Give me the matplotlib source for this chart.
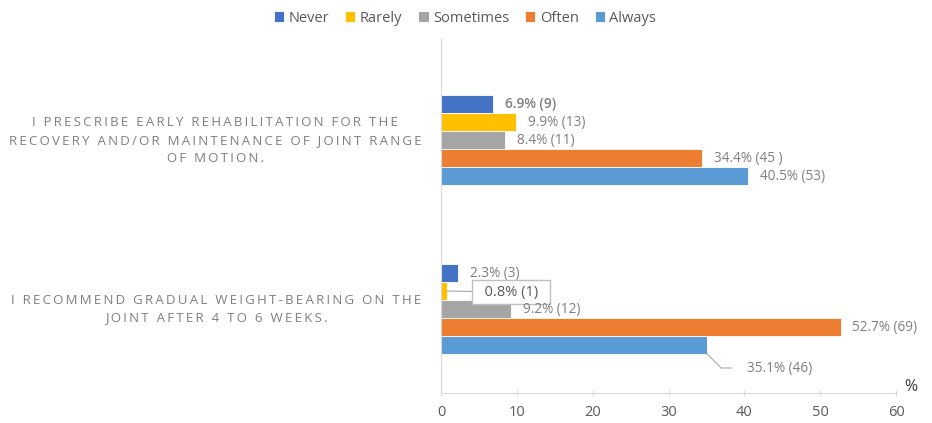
import numpy as np
import matplotlib.pyplot as plt

plt.rcParams['font.family'] = ['Open Sans', 'DejaVu Sans']

# survey statements (top to bottom)
statements = [
    "I PRESCRIBE EARLY REHABILITATION FOR THE\nRECOVERY AND/OR MAINTENANCE OF JOINT RANGE\nOF MOTION.",
    "I RECOMMEND GRADUAL WEIGHT-BEARING ON THE\nJOINT AFTER 4 TO 6 WEEKS.",
]
answers = ["Never", "Rarely", "Sometimes", "Often", "Always"]
colors = ["#4472C4", "#FFC000", "#A5A5A5", "#ED7D31", "#5B9BD5"]

# percent per answer, one list per statement
pct_rehab = [6.9, 9.9, 8.4, 34.4, 40.5]
pct_weight = [2.3, 0.8, 9.2, 52.7, 35.1]
# respondent counts
n_rehab = ["9", "13", "11", "45 ", "53"]
n_weight = ["3", "1", "12", "69", "46"]

pcts = [pct_rehab, pct_weight]
counts = [n_rehab, n_weight]


def spaced(s):
    # letter-spacing via thin spaces between characters
    return "\n".join("\u2009".join(line) for line in s.split("\n"))


fig = plt.figure(figsize=(9.32, 4.23), dpi=100)
ax = fig.add_axes([0.4732, 0.0709, 0.4882, 0.8392])

h = 0.1065
grey = "#7f7f7f"
for j, (name, c) in enumerate(zip(answers, colors)):
    vals = [p[j] for p in pcts]
    ys = [i + (j - 2) * h for i in range(len(statements))]
    ax.barh(ys, vals, height=h, color=c, edgecolor="white", linewidth=0.6, label=name)

# value labels
for i in range(len(statements)):
    for j in range(len(answers)):
        v = pcts[i][j]
        y = i + (j - 2) * h
        txt = f"{v}% ({counts[i][j]})"
        if i == 1 and j == 1:
            # tiny bar: label in a box with a leader
            ax.annotate("  " + txt + "  ", xy=(v, y), xytext=(9.23, y + 0.006),
                        ha="center", va="center", fontsize=10.5, color="#595959",
                        bbox=dict(boxstyle="square,pad=0.32", fc="white", ec="#bfbfbf", lw=1),
                        arrowprops=dict(arrowstyle="-", color="#a6a6a6", lw=0.8,
                                        shrinkA=0, shrinkB=0))
        elif i == 1 and j == 4:
            ax.annotate(txt, xy=(v, y + h / 2), xytext=(40.35, y + 0.136), ha="left", va="center",
                        fontsize=9.8, color=grey,
                        arrowprops=dict(arrowstyle="-", color="#a6a6a6", lw=0.8,
                                        connectionstyle="angle,angleA=180,angleB=-45,rad=0",
                                        shrinkA=9, shrinkB=0))
        else:
            ax.annotate(txt, xy=(v, y), xytext=(8.5, 0), textcoords="offset points",
                        ha="left", va="center", fontsize=9.8, color=grey,
                        fontweight="semibold" if (i == 0 and j == 0) else "normal")

ax.set_xlim(0, 60)
ax.set_ylim(1.497, -0.604)
ax.set_xticks(np.arange(0, 61, 10))
ax.set_yticks(range(len(statements)))
ax.set_yticklabels([spaced(s) for s in statements], multialignment="center",
                   linespacing=1.5, va="center")
for lab in ax.get_yticklabels():
    lab.set_fontsize(9.5)
    lab.set_color(grey)
ax.tick_params(axis="y", length=0, pad=14)
ax.tick_params(axis="x", direction="inout", length=5, color="#d9d9d9", labelsize=10.5,
               labelcolor="#595959", pad=6)
for s in ["top", "right"]:
    ax.spines[s].set_visible(False)
ax.spines["left"].set_color("#d9d9d9")
ax.spines["bottom"].set_color("#d9d9d9")

fig.text(0.977, 0.085, "%", fontsize=11.5, color="#404040", ha="center", va="center")

handles, labels = ax.get_legend_handles_labels()
fig.legend(handles, labels, loc="center", bbox_to_anchor=(0.499, 0.957), ncol=5,
           frameon=False, handlelength=0.7, handleheight=0.7, handletextpad=0.3,
           columnspacing=1.1, fontsize=10.5, labelcolor="#595959")

fig.savefig("out.png", dpi=100)
